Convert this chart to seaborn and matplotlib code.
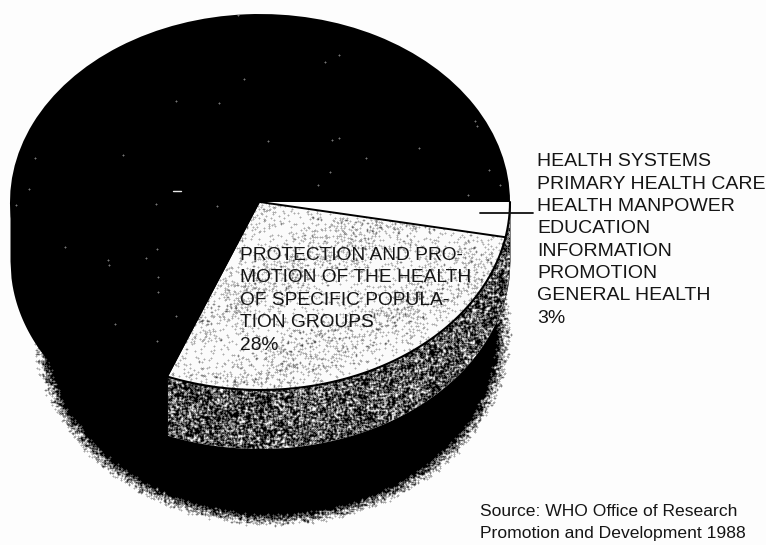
import numpy as np
import matplotlib
matplotlib.use("Agg")
import matplotlib.pyplot as plt
from matplotlib.transforms import Affine2D
import seaborn as sns

# Budget shares, clockwise from three o'clock
shares = [3, 28, 69]
slice_colors = ["#fdfdfd", "#fbfbfb", "#000000"]

systems_lines = ["HEALTH SYSTEMS", "PRIMARY HEALTH CARE", "HEALTH MANPOWER",
                 "EDUCATION", "INFORMATION", "PROMOTION", "GENERAL HEALTH", "3%"]
groups_lines = ["PROTECTION AND PRO-", "MOTION OF THE HEALTH",
                "OF SPECIFIC POPULA-", "TION GROUPS", "28%"]
source_lines = ["Source: WHO Office of Research", "Promotion and Development 1988"]

W, H = 766, 545
CX, CY, RX, RY = 260.0, 202.0, 250.0, 188.0
DEPTH = 59.0 / RY  # disc thickness in axis units

sns.set_theme(style="white")
plt.rcParams["font.family"] = ["Liberation Sans", "DejaVu Sans"]

fig = plt.figure(figsize=(W / 100, H / 100), dpi=100, facecolor="#fdfdfd")
ax = fig.add_axes([0, 0, 1, 1])

wedges, _ = ax.pie(shares, colors=slice_colors, startangle=0, counterclock=False,
                   radius=1, wedgeprops={"linewidth": 0})
ax.set_aspect("auto")
ax.set_xlim(-CX / RX, (W - CX) / RX)
ax.set_ylim(-(H - CY) / RY, CY / RY)
ax.set_axis_off()
for w in wedges:
    w.set_zorder(5)

# Image-style coordinates for annotation placement
px = Affine2D().scale(1, -1).translate(0, H)
extent = ax.get_xlim() + ax.get_ylim()
yy, xx = np.mgrid[0:H, 0:W]
grain = np.random.default_rng(1988)


def soften(a, n=1):
    """Small box blur, standing in for the softness of halftone printing."""
    for _ in range(n):
        a = (a * 2 + np.roll(a, 1, 0) + np.roll(a, -1, 0)
             + np.roll(a, 1, 1) + np.roll(a, -1, 1)) / 6
    return a


def ink(alpha, clip=None, z=2):
    """Lay a black ink layer with the given coverage over the axes."""
    rgba = np.zeros((H, W, 4))
    rgba[..., 3] = alpha
    im = ax.imshow(rgba, extent=extent, origin="upper", aspect="auto",
                   interpolation="bilinear", zorder=z)
    if clip is not None:
        im.set_clip_path(clip)
    ax.set_xlim(extent[0], extent[1])
    ax.set_ylim(extent[2], extent[3])
    return im


# Cast shadow under the disc, dissolving into stipple at its rim
r = np.hypot((xx - 272) / 232, (yy - 330) / 190)
coverage = np.clip((1.035 - r) / 0.07, 0, 1) ** 1.1
ink(soften((grain.random((H, W)) < coverage).astype(float)), z=1)

# Disc body below the top face
xs = np.linspace(-1, 1, 500)
rim = np.sqrt(1 - xs ** 2)
ax.fill_between(xs, -rim - DEPTH, 0, color="black", lw=0, zorder=2)

# Side wall beneath the two light slices
fracs = np.cumsum(shares) / np.sum(shares)
th = np.radians(np.linspace(0, 360 * fracs[1], 200))
wall_x = np.r_[np.cos(th), np.cos(th)[::-1]]
wall_y = np.r_[-np.sin(th), -np.sin(th)[::-1] - DEPTH]
wall = ax.fill(wall_x, wall_y, color="white", lw=0, zorder=3)[0]
noise = grain.random((H, W))
mixed = 0.6 * noise + 0.4 * soften(noise, 2)
ink(soften((mixed < np.quantile(mixed, 0.64)).astype(float)), clip=wall, z=4)

# Stipple on the 28% slice, in loose drifts
fall = 0.035 + 0.075 * np.sin(xx / 61.0 + yy / 29.0) ** 2
ink(soften((grain.random((H, W)) < fall).astype(float)) * 0.95, clip=wedges[1], z=6)

# Faint specks showing through the solid slice
specks = grain.random((H, W)) < 0.00035
rgba = np.zeros((H, W, 4))
rgba[..., :3] = 1
rgba[..., 3] = np.clip(soften(specks.astype(float)) * 1.4, 0, 1)
sp = ax.imshow(rgba, extent=extent, origin="upper", aspect="auto", zorder=6)
sp.set_clip_path(wedges[2])
ax.set_xlim(extent[0], extent[1])
ax.set_ylim(extent[2], extent[3])
ax.plot([173, 181], [190.5, 190.5], color="#e8e8e8", lw=1.0, zorder=7, transform=px)

# Outlines: rim of the light slices and the divider between them
arc = np.radians(np.linspace(0, 360 * fracs[1], 200))
ax.plot(np.cos(arc), -np.sin(arc), color="black", lw=1.5, zorder=7)
a0 = 2 * np.pi * fracs[0]
ax.plot([0, np.cos(a0)], [0, -np.sin(a0)], color="black", lw=1.4, zorder=7)

# Leader from the 3% slice to its label
ax.plot([480, 533], [213, 213], color="#111111", lw=1.3, zorder=8, transform=px)

text_style = dict(color="#151515", transform=px, va="center", ha="left", zorder=9)
for i, line in enumerate(systems_lines):
    ax.text(537, 162 + i * 22.3, line, fontsize=14.0, **text_style)
for i, line in enumerate(groups_lines):
    ax.text(240, 255 + i * 22.6, line, fontsize=13.75, **text_style)
for i, line in enumerate(source_lines):
    ax.text(480, 511 + i * 22.5, line, fontsize=12.6, **text_style)

fig.savefig("out.png", dpi=100, facecolor=fig.get_facecolor())
